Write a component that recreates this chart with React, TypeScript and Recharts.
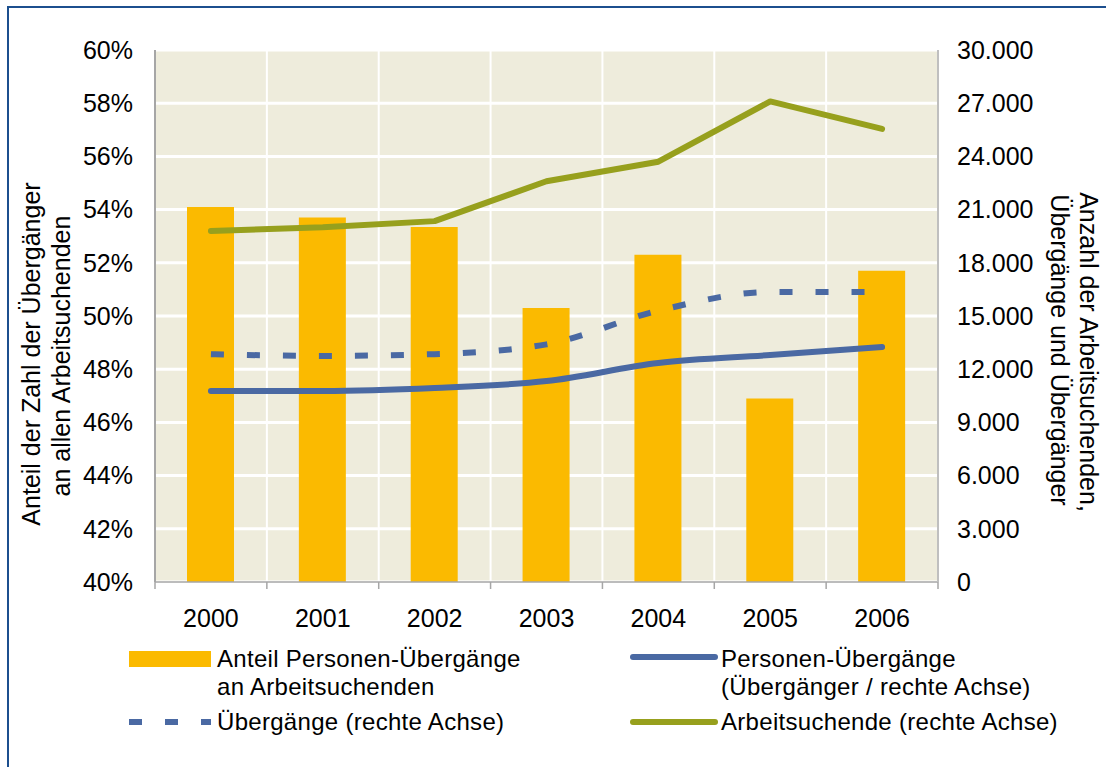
import React from 'react';
import { ComposedChart, Bar, Line, XAxis, YAxis, CartesianGrid } from 'recharts';

const years = ['2000', '2001', '2002', '2003', '2004', '2005', '2006'];
// Anteil Personen-Übergänge an Arbeitsuchenden (linke Achse, %)
const anteilPersonen = [54.1, 53.7, 53.35, 50.3, 52.3, 46.9, 51.7];
// rechte Achse
const arbeitsuchende = [19800, 20000, 20350, 22600, 23700, 27100, 25550];
const uebergaenge = [12850, 12750, 12850, 13400, 15300, 16350, 16350];
const personenUebergaenge = [10770, 10770, 10940, 11330, 12350, 12800, 13250];

const leftTicks = [40, 42, 44, 46, 48, 50, 52, 54, 56, 58, 60];
const rightTicks = [0, 3000, 6000, 9000, 12000, 15000, 18000, 21000, 24000, 27000, 30000];

const data = years.map((year, i) => ({
  year,
  anteil: anteilPersonen[i],
  arbeitsuchende: arbeitsuchende[i],
  uebergaenge: uebergaenge[i],
  personen: personenUebergaenge[i]
}));

const W = 1106;
const H = 767;
const LEFT_W = 155;
const RIGHT_W = 168;
const PLOT_W = W - LEFT_W - RIGHT_W;
const HALF_BAND = PLOT_W / years.length / 2;

const FONT = "'Liberation Sans', Arial, sans-serif";
const GOLD = '#FBBA00';
const BLUE = '#4A69A3';
const GREEN = '#97A01D';
const AXIS = '#A6A6A6';

const fmtThousands = (v: number) =>
  v === 0 ? '0' : `${Math.floor(v / 1000)}.${String(v % 1000).padStart(3, '0')}`;

const YearTick = (props: any) => {
  const { x, y, payload, index } = props;
  return (
    <g>
      <line x1={x - HALF_BAND} x2={x - HALF_BAND} y1={y - 7} y2={y} stroke={AXIS} strokeWidth={1.5} />
      {index === years.length - 1 && (
        <line x1={x + HALF_BAND} x2={x + HALF_BAND} y1={y - 7} y2={y} stroke={AXIS} strokeWidth={1.5} />
      )}
      <text x={x} y={y + 38} textAnchor="middle" fontSize={25} fontFamily={FONT} fill="#000">
        {payload.value}
      </text>
    </g>
  );
};

const Overlay = () => {
  const txt = { fontSize: 24, fontFamily: FONT, fill: '#000', letterSpacing: 0.3 };
  return (
    <svg width={W} height={H} style={{ position: 'absolute', left: 0, top: 0, pointerEvents: 'none' }}>
      {/* Rahmen */}
      <line x1={8} x2={8} y1={6} y2={H} stroke="#1C4F8E" strokeWidth={2} />
      <line x1={7} x2={W} y1={7} y2={7} stroke="#1C4F8E" strokeWidth={2} />

      {/* Achsentitel links */}
      <g transform="translate(31,354) rotate(-90)">
        <text x={0} y={0} textAnchor="middle" dominantBaseline="central" fontSize={25} fontFamily={FONT}>
          Anteil der Zahl der Übergänger
        </text>
      </g>
      <g transform="translate(61,356) rotate(-90)">
        <text x={0} y={0} textAnchor="middle" dominantBaseline="central" fontSize={25} fontFamily={FONT}>
          an allen Arbeitsuchenden
        </text>
      </g>
      {/* Achsentitel rechts */}
      <g transform="translate(1089,352) rotate(90)">
        <text x={0} y={0} textAnchor="middle" dominantBaseline="central" fontSize={25} fontFamily={FONT}>
          Anzahl der Arbeitsuchenden,
        </text>
      </g>
      <g transform="translate(1060,350) rotate(90)">
        <text x={0} y={0} textAnchor="middle" dominantBaseline="central" fontSize={25} fontFamily={FONT}>
          Übergänge und Übergänger
        </text>
      </g>

      {/* Legende */}
      <rect x={129} y={651} width={82} height={16} fill={GOLD} />
      <text x={217} y={667} {...txt}>Anteil Personen-Übergänge</text>
      <text x={217} y={695} {...txt}>an Arbeitsuchenden</text>

      <line x1={129} x2={211} y1={722} y2={722} stroke={BLUE} strokeWidth={6} strokeDasharray="13 23" />
      <text x={217} y={730} {...txt}>Übergänge (rechte Achse)</text>

      <line x1={633} x2={715} y1={657} y2={657} stroke={BLUE} strokeWidth={6} strokeLinecap="round" />
      <text x={721} y={667} {...txt}>Personen-Übergänge</text>
      <text x={721} y={695} {...txt}>(Übergänger / rechte Achse)</text>

      <line x1={633} x2={715} y1={722} y2={722} stroke={GREEN} strokeWidth={6} strokeLinecap="round" />
      <text x={721} y={730} {...txt}>Arbeitsuchende (rechte Achse)</text>
    </svg>
  );
};

const App: React.FC = () => {
  return (
    <div style={{ position: 'absolute', left: 0, top: 0, width: W, height: H, overflow: 'hidden', background: '#fff', fontFamily: FONT }}>
      <ComposedChart width={W} height={H} data={data} margin={{ top: 50, right: 0, bottom: 135, left: 0 }}>
        <CartesianGrid
          yAxisId="left"
          vertical={false}
          fill="#EEECDC"
          fillOpacity={1}
          stroke="#FFFFFF"
          strokeWidth={3}
        />
        <CartesianGrid
          yAxisId="left"
          horizontal={false}
          stroke="#FFFFFF"
          strokeWidth={2}
          verticalCoordinatesGenerator={({ offset }: any) =>
            years.slice(1).map((_, i) => offset.left + ((i + 1) * offset.width) / years.length)
          }
        />
        <XAxis
          dataKey="year"
          height={50}
          axisLine={{ stroke: AXIS, strokeWidth: 1.5 }}
          tickLine={false}
          tickSize={7}
          tickMargin={0}
          tick={<YearTick />}
          interval={0}
        />
        <YAxis
          yAxisId="left"
          width={LEFT_W}
          domain={[40, 60]}
          ticks={leftTicks}
          tickFormatter={(v: number) => `${v}%`}
          axisLine={{ stroke: AXIS, strokeWidth: 2 }}
          tickLine={false}
          tickSize={6}
          tickMargin={16}
          tick={{ fill: '#000', fontSize: 25, fontFamily: FONT }}
          interval={0}
        />
        <YAxis
          yAxisId="right"
          orientation="right"
          width={RIGHT_W}
          domain={[0, 30000]}
          ticks={rightTicks}
          tickFormatter={fmtThousands}
          axisLine={{ stroke: '#BFBFBF', strokeWidth: 2 }}
          tickLine={false}
          tickSize={6}
          tickMargin={13}
          tick={{ fill: '#000', fontSize: 25, fontFamily: FONT, textAnchor: 'start' }}
          interval={0}
        />
        <Bar yAxisId="left" dataKey="anteil" fill={GOLD} barSize={47} isAnimationActive={false} />
        <Line
          yAxisId="right"
          type="monotone"
          dataKey="uebergaenge"
          stroke={BLUE}
          strokeWidth={6}
          strokeDasharray="13 23"
          dot={false}
          activeDot={false}
          isAnimationActive={false}
        />
        <Line
          yAxisId="right"
          type="monotone"
          dataKey="personen"
          stroke={BLUE}
          strokeWidth={6}
          strokeLinecap="round"
          dot={false}
          activeDot={false}
          isAnimationActive={false}
        />
        <Line
          yAxisId="right"
          type="linear"
          dataKey="arbeitsuchende"
          stroke={GREEN}
          strokeWidth={6}
          strokeLinecap="round"
          strokeLinejoin="round"
          dot={false}
          activeDot={false}
          isAnimationActive={false}
        />
      </ComposedChart>
      <Overlay />
    </div>
  );
};

export default App;
